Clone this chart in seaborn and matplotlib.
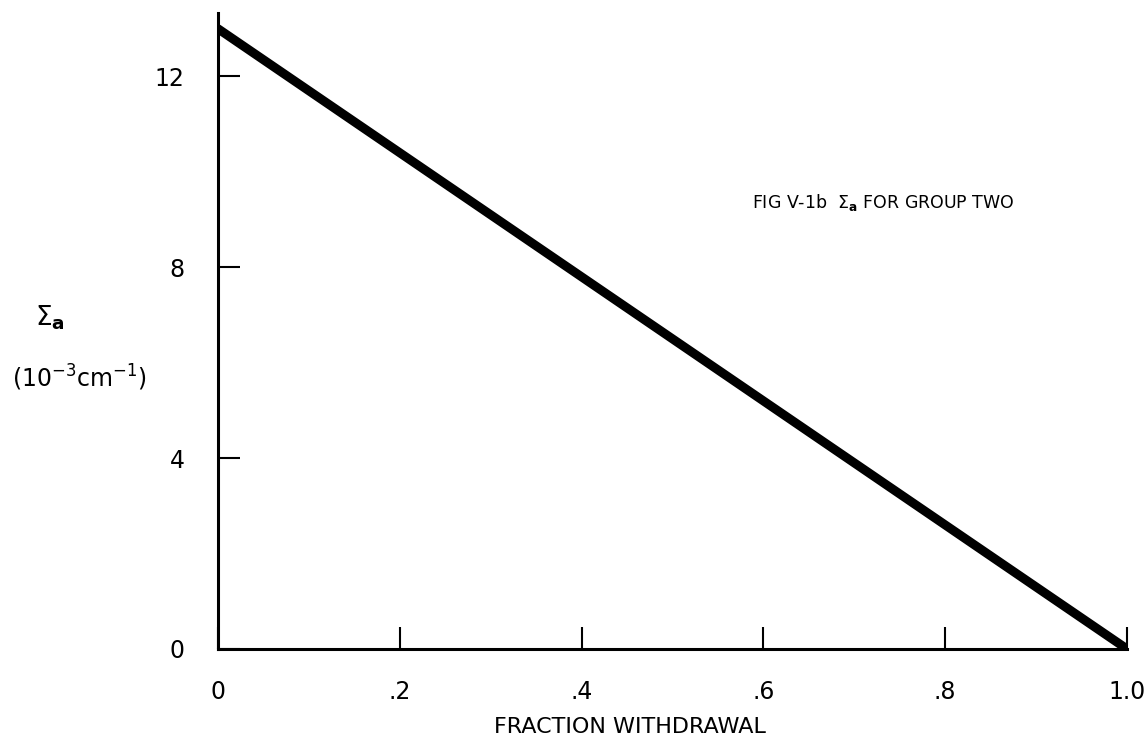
import matplotlib
matplotlib.use("Agg")
import matplotlib.pyplot as plt
import seaborn as sns
import pandas as pd

# Data
fraction = [0.0, 1.0]
sigma_a = [13.0, 0.0]
x_ticks = [0.0, 0.2, 0.4, 0.6, 0.8, 1.0]
x_ticklabels = ["0", ".2", ".4", ".6", ".8", "1.0"]
y_ticks = [0, 4, 8, 12]
y_ticklabels = ["0", "4", "8", "12"]

sns.set_theme(style="white")
font = ["DejaVu Sans"]
plt.rcParams["font.family"] = font
plt.rcParams["text.color"] = "black"
plt.rcParams["axes.labelcolor"] = "black"

fig = plt.figure(figsize=(11.46, 7.45), dpi=100)
ax = fig.add_axes([218/1146, 1-649/745, (1127-218)/1146, (649-13)/745])

df = pd.DataFrame({"fraction": fraction, "sigma": sigma_a})
sns.lineplot(data=df, x="fraction", y="sigma", ax=ax, color="black", linewidth=6.5)

ax.set_xlim(0, 1.0)
ax.set_ylim(0, 13.33)
ax.set_xticks(x_ticks)
ax.set_xticklabels(x_ticklabels)
ax.set_yticks(y_ticks)
ax.set_yticklabels(y_ticklabels)
ax.tick_params(axis="x", direction="in", length=16, width=1.5, colors="black",
               labelsize=17, pad=22, bottom=True)
ax.tick_params(axis="y", direction="in", length=16, width=1.5, colors="black",
               labelsize=17, pad=24, left=True)

for s in ["top", "right"]:
    ax.spines[s].set_visible(False)
for s in ["left", "bottom"]:
    ax.spines[s].set_color("black")
    ax.spines[s].set_linewidth(2.2)

ax.set_xlabel("")
ax.set_ylabel("")
fig.text(630/1146, 1-727/745, "FRACTION WITHDRAWAL", ha="center", va="center",
         fontsize=16, color="black")
fig.text(50/1146, 1-318/745, r"$\Sigma_{\mathbf{a}}$", ha="center", va="center",
         fontsize=19, color="black")
fig.text(80/1146, 1-378/745, r"(10$^{-3}$cm$^{-1}$)", ha="center", va="center",
         fontsize=17, color="black")
ax.text(0.587, 9.35, r"FIG V-1b  $\Sigma_{\mathbf{a}}$ FOR GROUP TWO", ha="left", va="center",
        fontsize=12.5, color="black")

fig.savefig("out.png", dpi=100, facecolor="white")
